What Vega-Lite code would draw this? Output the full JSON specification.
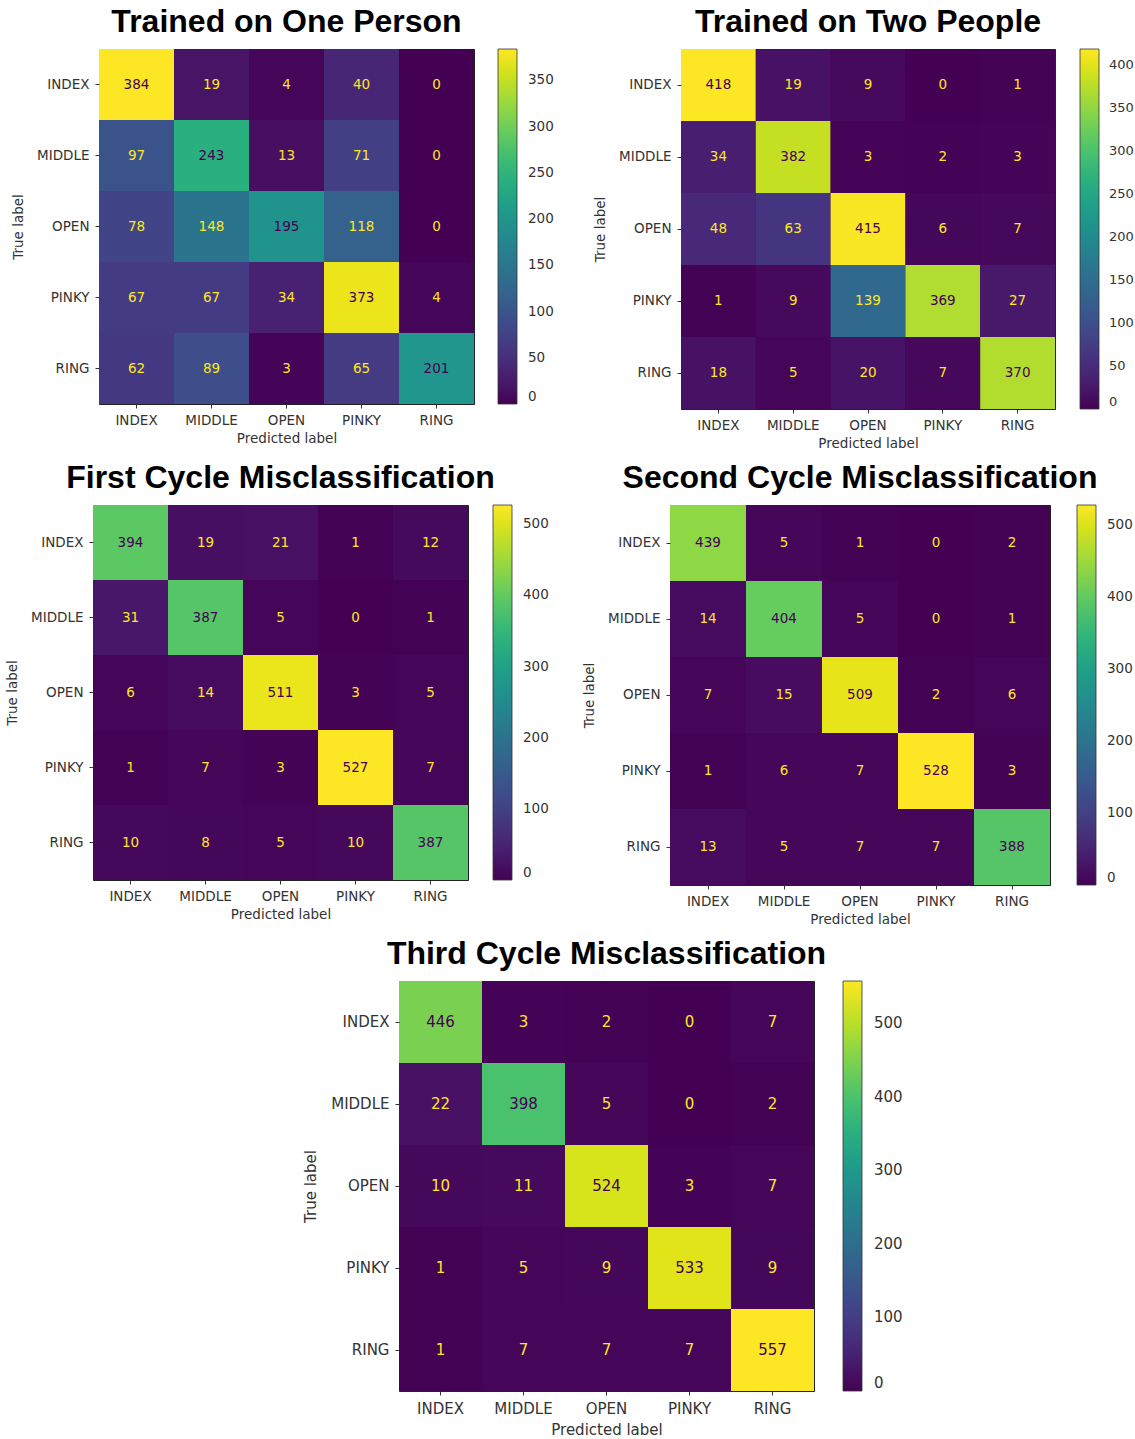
{
  "$schema": "https://vega.github.io/schema/vega-lite/v6.json",
  "padding": {"left": 5, "top": 5, "right": 0, "bottom": 0},
  "background": "white",
  "config": {
    "view": {"stroke": "#222", "strokeWidth": 1, "fill": "#440154"},
    "scale": {"rectBandPaddingInner": 0, "bandPaddingOuter": 0},
    "axis": {"labelFont": "DejaVu Sans", "labelFontSize": 13.5, "labelColor": "#333", "titleFont": "DejaVu Sans", "titleFontSize": 13.5, "titleFontWeight": "normal", "titleColor": "#333", "tickColor": "#333", "tickSize": 4, "domain": false, "grid": false},
    "axisX": {"labelAngle": 0, "labelPadding": 5, "titlePadding": 5},
    "axisY": {"labelPadding": 6, "titlePadding": 11},
    "legend": {"gradientThickness": 19, "labelFont": "DejaVu Sans", "labelFontSize": 13.5, "labelColor": "#333", "offset": 25, "gradientStrokeColor": "#333", "gradientStrokeWidth": 0.8, "labelBaseline": "middle"},
    "title": {"font": "Liberation Sans", "fontSize": 32, "fontWeight": "bold", "color": "#000", "anchor": "middle", "frame": "group", "offset": 10},
    "text": {"font": "DejaVu Sans", "fontSize": 13.5}
  },
  "datasets": {
    "one": [
      {"actual": "INDEX", "predicted": "INDEX", "count": 384}, {"actual": "INDEX", "predicted": "MIDDLE", "count": 19}, {"actual": "INDEX", "predicted": "OPEN", "count": 4}, {"actual": "INDEX", "predicted": "PINKY", "count": 40}, {"actual": "INDEX", "predicted": "RING", "count": 0},
      {"actual": "MIDDLE", "predicted": "INDEX", "count": 97}, {"actual": "MIDDLE", "predicted": "MIDDLE", "count": 243}, {"actual": "MIDDLE", "predicted": "OPEN", "count": 13}, {"actual": "MIDDLE", "predicted": "PINKY", "count": 71}, {"actual": "MIDDLE", "predicted": "RING", "count": 0},
      {"actual": "OPEN", "predicted": "INDEX", "count": 78}, {"actual": "OPEN", "predicted": "MIDDLE", "count": 148}, {"actual": "OPEN", "predicted": "OPEN", "count": 195}, {"actual": "OPEN", "predicted": "PINKY", "count": 118}, {"actual": "OPEN", "predicted": "RING", "count": 0},
      {"actual": "PINKY", "predicted": "INDEX", "count": 67}, {"actual": "PINKY", "predicted": "MIDDLE", "count": 67}, {"actual": "PINKY", "predicted": "OPEN", "count": 34}, {"actual": "PINKY", "predicted": "PINKY", "count": 373}, {"actual": "PINKY", "predicted": "RING", "count": 4},
      {"actual": "RING", "predicted": "INDEX", "count": 62}, {"actual": "RING", "predicted": "MIDDLE", "count": 89}, {"actual": "RING", "predicted": "OPEN", "count": 3}, {"actual": "RING", "predicted": "PINKY", "count": 65}, {"actual": "RING", "predicted": "RING", "count": 201}
    ],
    "two": [
      {"actual": "INDEX", "predicted": "INDEX", "count": 418}, {"actual": "INDEX", "predicted": "MIDDLE", "count": 19}, {"actual": "INDEX", "predicted": "OPEN", "count": 9}, {"actual": "INDEX", "predicted": "PINKY", "count": 0}, {"actual": "INDEX", "predicted": "RING", "count": 1},
      {"actual": "MIDDLE", "predicted": "INDEX", "count": 34}, {"actual": "MIDDLE", "predicted": "MIDDLE", "count": 382}, {"actual": "MIDDLE", "predicted": "OPEN", "count": 3}, {"actual": "MIDDLE", "predicted": "PINKY", "count": 2}, {"actual": "MIDDLE", "predicted": "RING", "count": 3},
      {"actual": "OPEN", "predicted": "INDEX", "count": 48}, {"actual": "OPEN", "predicted": "MIDDLE", "count": 63}, {"actual": "OPEN", "predicted": "OPEN", "count": 415}, {"actual": "OPEN", "predicted": "PINKY", "count": 6}, {"actual": "OPEN", "predicted": "RING", "count": 7},
      {"actual": "PINKY", "predicted": "INDEX", "count": 1}, {"actual": "PINKY", "predicted": "MIDDLE", "count": 9}, {"actual": "PINKY", "predicted": "OPEN", "count": 139}, {"actual": "PINKY", "predicted": "PINKY", "count": 369}, {"actual": "PINKY", "predicted": "RING", "count": 27},
      {"actual": "RING", "predicted": "INDEX", "count": 18}, {"actual": "RING", "predicted": "MIDDLE", "count": 5}, {"actual": "RING", "predicted": "OPEN", "count": 20}, {"actual": "RING", "predicted": "PINKY", "count": 7}, {"actual": "RING", "predicted": "RING", "count": 370}
    ],
    "first": [
      {"actual": "INDEX", "predicted": "INDEX", "count": 394}, {"actual": "INDEX", "predicted": "MIDDLE", "count": 19}, {"actual": "INDEX", "predicted": "OPEN", "count": 21}, {"actual": "INDEX", "predicted": "PINKY", "count": 1}, {"actual": "INDEX", "predicted": "RING", "count": 12},
      {"actual": "MIDDLE", "predicted": "INDEX", "count": 31}, {"actual": "MIDDLE", "predicted": "MIDDLE", "count": 387}, {"actual": "MIDDLE", "predicted": "OPEN", "count": 5}, {"actual": "MIDDLE", "predicted": "PINKY", "count": 0}, {"actual": "MIDDLE", "predicted": "RING", "count": 1},
      {"actual": "OPEN", "predicted": "INDEX", "count": 6}, {"actual": "OPEN", "predicted": "MIDDLE", "count": 14}, {"actual": "OPEN", "predicted": "OPEN", "count": 511}, {"actual": "OPEN", "predicted": "PINKY", "count": 3}, {"actual": "OPEN", "predicted": "RING", "count": 5},
      {"actual": "PINKY", "predicted": "INDEX", "count": 1}, {"actual": "PINKY", "predicted": "MIDDLE", "count": 7}, {"actual": "PINKY", "predicted": "OPEN", "count": 3}, {"actual": "PINKY", "predicted": "PINKY", "count": 527}, {"actual": "PINKY", "predicted": "RING", "count": 7},
      {"actual": "RING", "predicted": "INDEX", "count": 10}, {"actual": "RING", "predicted": "MIDDLE", "count": 8}, {"actual": "RING", "predicted": "OPEN", "count": 5}, {"actual": "RING", "predicted": "PINKY", "count": 10}, {"actual": "RING", "predicted": "RING", "count": 387}
    ],
    "second": [
      {"actual": "INDEX", "predicted": "INDEX", "count": 439}, {"actual": "INDEX", "predicted": "MIDDLE", "count": 5}, {"actual": "INDEX", "predicted": "OPEN", "count": 1}, {"actual": "INDEX", "predicted": "PINKY", "count": 0}, {"actual": "INDEX", "predicted": "RING", "count": 2},
      {"actual": "MIDDLE", "predicted": "INDEX", "count": 14}, {"actual": "MIDDLE", "predicted": "MIDDLE", "count": 404}, {"actual": "MIDDLE", "predicted": "OPEN", "count": 5}, {"actual": "MIDDLE", "predicted": "PINKY", "count": 0}, {"actual": "MIDDLE", "predicted": "RING", "count": 1},
      {"actual": "OPEN", "predicted": "INDEX", "count": 7}, {"actual": "OPEN", "predicted": "MIDDLE", "count": 15}, {"actual": "OPEN", "predicted": "OPEN", "count": 509}, {"actual": "OPEN", "predicted": "PINKY", "count": 2}, {"actual": "OPEN", "predicted": "RING", "count": 6},
      {"actual": "PINKY", "predicted": "INDEX", "count": 1}, {"actual": "PINKY", "predicted": "MIDDLE", "count": 6}, {"actual": "PINKY", "predicted": "OPEN", "count": 7}, {"actual": "PINKY", "predicted": "PINKY", "count": 528}, {"actual": "PINKY", "predicted": "RING", "count": 3},
      {"actual": "RING", "predicted": "INDEX", "count": 13}, {"actual": "RING", "predicted": "MIDDLE", "count": 5}, {"actual": "RING", "predicted": "OPEN", "count": 7}, {"actual": "RING", "predicted": "PINKY", "count": 7}, {"actual": "RING", "predicted": "RING", "count": 388}
    ],
    "third": [
      {"actual": "INDEX", "predicted": "INDEX", "count": 446}, {"actual": "INDEX", "predicted": "MIDDLE", "count": 3}, {"actual": "INDEX", "predicted": "OPEN", "count": 2}, {"actual": "INDEX", "predicted": "PINKY", "count": 0}, {"actual": "INDEX", "predicted": "RING", "count": 7},
      {"actual": "MIDDLE", "predicted": "INDEX", "count": 22}, {"actual": "MIDDLE", "predicted": "MIDDLE", "count": 398}, {"actual": "MIDDLE", "predicted": "OPEN", "count": 5}, {"actual": "MIDDLE", "predicted": "PINKY", "count": 0}, {"actual": "MIDDLE", "predicted": "RING", "count": 2},
      {"actual": "OPEN", "predicted": "INDEX", "count": 10}, {"actual": "OPEN", "predicted": "MIDDLE", "count": 11}, {"actual": "OPEN", "predicted": "OPEN", "count": 524}, {"actual": "OPEN", "predicted": "PINKY", "count": 3}, {"actual": "OPEN", "predicted": "RING", "count": 7},
      {"actual": "PINKY", "predicted": "INDEX", "count": 1}, {"actual": "PINKY", "predicted": "MIDDLE", "count": 5}, {"actual": "PINKY", "predicted": "OPEN", "count": 9}, {"actual": "PINKY", "predicted": "PINKY", "count": 533}, {"actual": "PINKY", "predicted": "RING", "count": 9},
      {"actual": "RING", "predicted": "INDEX", "count": 1}, {"actual": "RING", "predicted": "MIDDLE", "count": 7}, {"actual": "RING", "predicted": "OPEN", "count": 7}, {"actual": "RING", "predicted": "PINKY", "count": 7}, {"actual": "RING", "predicted": "RING", "count": 557}
    ],
    "empty": []
  },
  "resolve": {"scale": {"color": "independent"}, "legend": {"color": "independent"}},
  "spacing": 10,
  "vconcat": [
    {
      "hconcat": [
        {"width": 1, "height": 1, "data": {"name": "empty"}, "mark": "point", "view": {"stroke": null, "fill": null}},
        {
          "hconcat": [
            {
              "width": 375, "height": 355,
              "title": "Trained on One Person",
              "data": {"name": "one"},
              "encoding": {
                "x": {"field": "predicted", "type": "nominal", "sort": ["INDEX", "MIDDLE", "OPEN", "PINKY", "RING"], "title": "Predicted label"},
                "y": {"field": "actual", "type": "nominal", "sort": ["INDEX", "MIDDLE", "OPEN", "PINKY", "RING"], "title": "True label"}
              },
              "layer": [
                {"mark": "rect", "encoding": {
                  "color": {"field": "count", "type": "quantitative", "scale": {"scheme": "viridis", "domain": [0, 384]}, "legend": {"title": null, "values": [0, 50, 100, 150, 200, 250, 300, 350], "gradientLength": 355, "labelOffset": 11, "offset": 24}}}},
                {"mark": "text", "encoding": {"text": {"field": "count", "type": "quantitative"}, "color": {"condition": {"test": "datum.count < 192", "value": "#fde725"}, "value": "#440154"}}}
              ]
            },
            {
              "width": 374, "height": 360,
              "title": "Trained on Two People",
              "data": {"name": "two"},
              "encoding": {
                "x": {"field": "predicted", "type": "nominal", "sort": ["INDEX", "MIDDLE", "OPEN", "PINKY", "RING"], "title": "Predicted label"},
                "y": {"field": "actual", "type": "nominal", "sort": ["INDEX", "MIDDLE", "OPEN", "PINKY", "RING"], "title": "True label"}
              },
              "layer": [
                {"mark": "rect", "encoding": {
                  "color": {"field": "count", "type": "quantitative", "scale": {"scheme": "viridis", "domain": [0, 418]}, "legend": {"title": null, "values": [0, 50, 100, 150, 200, 250, 300, 350, 400], "gradientLength": 360, "labelOffset": 10, "offset": 25, "labelFontSize": 13}}}},
                {"mark": "text", "encoding": {"text": {"field": "count", "type": "quantitative"}, "color": {"condition": {"test": "datum.count < 209", "value": "#fde725"}, "value": "#440154"}}}
              ]
            }
          ],
          "spacing": 38,
          "resolve": {"scale": {"color": "independent"}, "legend": {"color": "independent"}}
        }
      ],
      "spacing": -83,
      "resolve": {"scale": {"color": "independent"}, "legend": {"color": "independent"}}
    },
    {
      "hconcat": [
        {
          "width": 375, "height": 375,
          "title": "First Cycle Misclassification",
          "data": {"name": "first"},
          "encoding": {
            "x": {"field": "predicted", "type": "nominal", "sort": ["INDEX", "MIDDLE", "OPEN", "PINKY", "RING"], "title": "Predicted label"},
            "y": {"field": "actual", "type": "nominal", "sort": ["INDEX", "MIDDLE", "OPEN", "PINKY", "RING"], "title": "True label"}
          },
          "layer": [
            {"mark": "rect", "encoding": {
              "color": {"field": "count", "type": "quantitative", "scale": {"scheme": "viridis", "domain": [0, 527]}, "legend": {"title": null, "values": [0, 100, 200, 300, 400, 500], "gradientLength": 375, "labelOffset": 11, "offset": 25}}}},
            {"mark": "text", "encoding": {"text": {"field": "count", "type": "quantitative"}, "color": {"condition": {"test": "datum.count < 263.5", "value": "#fde725"}, "value": "#440154"}}}
          ]
        },
        {
          "width": 380, "height": 380,
          "title": "Second Cycle Misclassification",
          "data": {"name": "second"},
          "encoding": {
            "x": {"field": "predicted", "type": "nominal", "sort": ["INDEX", "MIDDLE", "OPEN", "PINKY", "RING"], "title": "Predicted label"},
            "y": {"field": "actual", "type": "nominal", "sort": ["INDEX", "MIDDLE", "OPEN", "PINKY", "RING"], "title": "True label"}
          },
          "layer": [
            {"mark": "rect", "encoding": {
              "color": {"field": "count", "type": "quantitative", "scale": {"scheme": "viridis", "domain": [0, 528]}, "legend": {"title": null, "values": [0, 100, 200, 300, 400, 500], "gradientLength": 380, "labelOffset": 11, "offset": 27}}}},
            {"mark": "text", "encoding": {"text": {"field": "count", "type": "quantitative"}, "color": {"condition": {"test": "datum.count < 264", "value": "#fde725"}, "value": "#440154"}}}
          ]
        }
      ],
      "spacing": 32,
      "resolve": {"scale": {"color": "independent"}, "legend": {"color": "independent"}}
    },
    {
      "hconcat": [
        {"width": 204, "height": 1, "data": {"name": "empty"}, "mark": "point", "view": {"stroke": null, "fill": null}},
        {
          "width": 415, "height": 410,
          "title": "Third Cycle Misclassification",
          "data": {"name": "third"},
          "encoding": {
            "x": {"field": "predicted", "type": "nominal", "sort": ["INDEX", "MIDDLE", "OPEN", "PINKY", "RING"], "title": "Predicted label", "axis": {"labelFontSize": 15, "titleFontSize": 15, "labelPadding": 6, "titlePadding": 6}},
            "y": {"field": "actual", "type": "nominal", "sort": ["INDEX", "MIDDLE", "OPEN", "PINKY", "RING"], "title": "True label", "axis": {"labelFontSize": 15, "titleFontSize": 15, "labelPadding": 6, "titlePadding": 12}}
          },
          "layer": [
            {"mark": "rect", "encoding": {
              "color": {"field": "count", "type": "quantitative", "scale": {"scheme": "viridis", "domain": [0, 557]}, "legend": {"title": null, "values": [0, 100, 200, 300, 400, 500], "gradientLength": 410, "labelOffset": 12, "offset": 29, "labelFontSize": 15}}}},
            {"mark": {"type": "text", "fontSize": 15}, "encoding": {"text": {"field": "count", "type": "quantitative"}, "color": {"condition": {"test": "datum.count < 278.5", "value": "#fde725"}, "value": "#440154"}}}
          ]
        }
      ],
      "spacing": 6,
      "resolve": {"scale": {"color": "independent"}, "legend": {"color": "independent"}}
    }
  ]
}
